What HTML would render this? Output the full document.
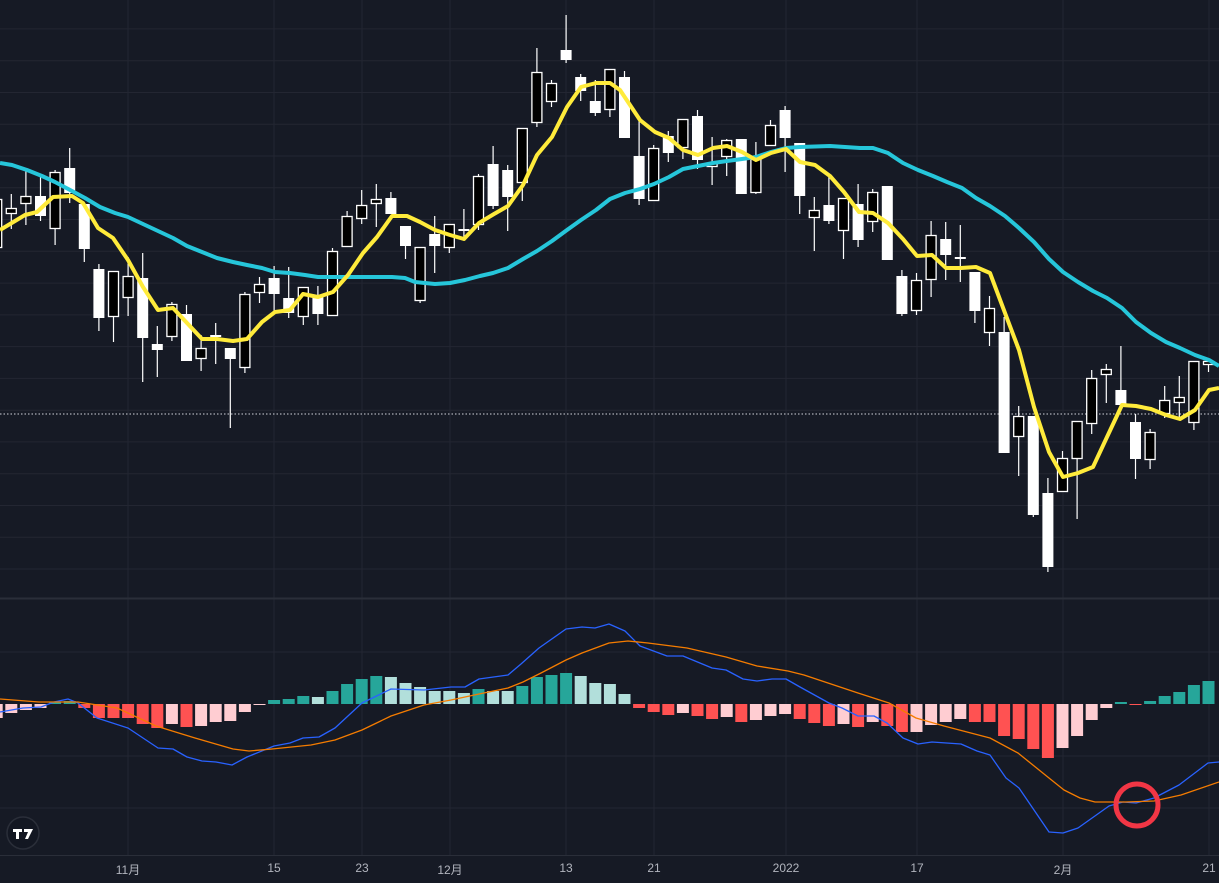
<!DOCTYPE html>
<html><head><meta charset="utf-8"><style>
html,body{margin:0;padding:0;background:#161a25;}
#c{position:relative;width:1219px;height:883px;overflow:hidden;background:#161a25;font-family:"Liberation Sans","Noto Sans CJK SC",sans-serif;}
svg{position:absolute;left:0;top:0;}
.lb{position:absolute;top:861px;color:#b2b5be;font-size:12px;transform:translateX(-50%);white-space:nowrap;}
</style></head><body><div id="c">
<svg id="s" width="1219" height="883" xmlns="http://www.w3.org/2000/svg"></svg>
<div class="lb" style="left:128px">11月</div>
<div class="lb" style="left:274px">15</div>
<div class="lb" style="left:362px">23</div>
<div class="lb" style="left:450px">12月</div>
<div class="lb" style="left:566px">13</div>
<div class="lb" style="left:654px">21</div>
<div class="lb" style="left:786px">2022</div>
<div class="lb" style="left:917px">17</div>
<div class="lb" style="left:1063px">2月</div>
<div class="lb" style="left:1209px">21</div>
</div>
<script>
var NS="http://www.w3.org/2000/svg",s=document.getElementById('s'),h='';
// grid
var vx=[128,274,362,450,566,654,786,917,1063,1209];
vx.forEach(function(x){h+='<line x1="'+x+'" y1="0" x2="'+x+'" y2="855" stroke="#232632" stroke-width="1"/>';});
for(var n=-4;n<=13;n++){var y=(156+31.77*n).toFixed(1);h+='<line x1="0" y1="'+y+'" x2="1219" y2="'+y+'" stroke="#232632"/>';}
[652,756,808].forEach(function(y){h+='<line x1="0" y1="'+y+'" x2="1219" y2="'+y+'" stroke="#232632"/>';});
h+='<line x1="0" y1="598.5" x2="1219" y2="598.5" stroke="#2a2e39" stroke-width="2"/>';
h+='<line x1="0" y1="855.5" x2="1219" y2="855.5" stroke="#2a2e39" stroke-width="1"/>';
h+='<line x1="0" y1="414" x2="1219" y2="414" stroke="#d1d4dc" stroke-width="1" stroke-dasharray="1.5,2"/>';
// MACD histogram
var hist=[[0,713,'p'],[1,710,'p'],[2,708,'p'],[3,702,'t'],[4,701,'t'],[5,708,'r'],[6,718,'r'],[7,718,'r'],[8,718,'r'],[9,724,'r'],[10,728,'r'],[11,724,'p'],[12,727,'r'],[13,726,'p'],[14,722,'p'],[15,721,'p'],[16,712,'p'],[17,705,'p'],[18,700,'t'],[19,699,'t'],[20,696,'t'],[21,697,'l'],[22,691,'t'],[23,684,'t'],[24,679,'t'],[25,676,'t'],[26,677,'l'],[27,683,'l'],[28,687,'l'],[29,691,'l'],[30,691,'l'],[31,693,'l'],[32,689,'t'],[33,691,'l'],[34,691,'l'],[35,686,'t'],[36,677,'t'],[37,675,'t'],[38,673,'t'],[39,676,'l'],[40,683,'l'],[41,684,'l'],[42,694,'l'],[43,708,'r'],[44,712,'r'],[45,715,'r'],[46,713,'p'],[47,716,'r'],[48,719,'r'],[49,717,'p'],[50,722,'r'],[51,720,'p'],[52,716,'p'],[53,714,'p'],[54,719,'r'],[55,723,'r'],[56,726,'r'],[57,724,'p'],[58,727,'r'],[59,722,'p'],[60,726,'r'],[61,732,'r'],[62,732,'p'],[63,725,'p'],[64,722,'p'],[65,719,'p'],[66,722,'r'],[67,722,'r'],[68,736,'r'],[69,739,'r'],[70,749,'r'],[71,758,'r'],[72,748,'p'],[73,736,'p'],[74,720,'p'],[75,708,'p'],[76,702,'t'],[77,705,'r'],[78,701,'t'],[79,696,'t'],[80,692,'t'],[81,685,'t'],[82,681,'t'],[-1,718,'p']];
var col={p:'#ffcdd2',r:'#ff5252',t:'#26a69a',l:'#b2dfdb'},z=704;
hist.forEach(function(b){var x=11.3+14.6*b[0]-6,y1=Math.min(b[1],z),y2=Math.max(b[1],z);h+='<rect x="'+x.toFixed(1)+'" y="'+y1+'" width="12" height="'+Math.max(1,y2-y1)+'" fill="'+col[b[2]]+'"/>';});
function pl(p,c,w){return '<polyline fill="none" stroke="'+c+'" stroke-width="'+w+'" stroke-linejoin="round" points="'+p.map(function(q){return q.join(',')}).join(' ')+'"/>';}
var macd=[[0,712],[23,708],[41,707],[54,702],[68,699],[78,703],[97,718],[128,728],[158,748],[173,749],[187,757],[202,761],[216,762],[232,765],[247,757],[274,746],[290,743],[303,738],[319,737],[335,728],[362,703],[391,689],[424,690],[451,687],[465,687],[479,679],[508,675],[521,664],[539,648],[566,629],[582,627],[595,628],[609,624],[625,631],[640,646],[667,656],[683,656],[712,668],[726,670],[743,679],[757,681],[772,679],[786,679],[800,687],[829,703],[842,708],[858,716],[874,716],[887,723],[903,738],[918,744],[932,742],[961,744],[977,751],[990,755],[1006,778],[1019,788],[1049,832],[1063,833],[1078,828],[1109,806],[1123,802],[1136,803],[1154,798],[1179,785],[1208,763],[1219,762]];
var sig=[[0,699],[39,702],[78,702],[117,708],[156,726],[195,738],[233,749],[249,751],[272,749],[311,745],[335,740],[362,730],[391,716],[424,705],[451,700],[479,694],[508,688],[523,682],[541,673],[566,660],[582,653],[609,643],[628,641],[648,643],[687,648],[726,657],[757,666],[788,671],[804,675],[858,693],[889,703],[916,718],[944,726],[990,738],[1018,753],[1049,778],[1064,790],[1080,798],[1095,802],[1126,802],[1154,801],[1181,795],[1219,782]];
h+=pl(macd,'#2962ff',1.3)+pl(sig,'#f57c00',1.3);
h+='<circle cx="1137" cy="805" r="21" fill="none" stroke="#f23645" stroke-width="5"/>';
// candles
var C=[[-1,199,248,195,252,'B'],[0,208,214,194,229,'B'],[1,196,204,170,225,'B'],[2,196,216,176,221,'W'],[3,172,229,170,245,'B'],[4,168,193,148,203,'W'],[5,204,249,204,262,'W'],[6,269,318,264,331,'W'],[7,271,317,271,342,'B'],[8,276,298,257,316,'B'],[9,278,338,253,382,'W'],[10,344,350,326,377,'W'],[11,304,337,302,341,'B'],[12,314,361,305,361,'W'],[13,348,359,335,371,'B'],[14,335,336,323,364,'W'],[15,348,359,348,428,'W'],[16,294,368,292,373,'B'],[17,284,293,277,303,'B'],[18,278,294,266,312,'W'],[19,298,313,267,318,'W'],[20,287,317,287,325,'B'],[21,296,314,286,325,'W'],[22,251,316,248,316,'B'],[23,216,247,211,247,'B'],[24,205,219,190,224,'B'],[25,199,204,184,227,'B'],[26,198,214,192,214,'W'],[27,226,246,226,259,'W'],[28,247,301,247,303,'B'],[29,234,246,216,273,'W'],[30,224,248,224,253,'B'],[31,229,231,209,240,'W'],[32,176,225,174,230,'B'],[33,164,206,146,209,'W'],[34,170,197,165,231,'W'],[35,128,183,128,201,'B'],[36,72,123,48,127,'B'],[37,83,102,80,107,'B'],[38,50,60,15,63,'W'],[39,77,91,74,101,'W'],[40,101,113,80,116,'W'],[41,69,110,69,117,'B'],[42,77,138,71,138,'W'],[43,156,199,118,205,'W'],[44,148,201,145,201,'B'],[45,136,153,131,162,'W'],[46,119,148,119,159,'B'],[47,116,160,110,169,'W'],[48,163,167,137,185,'B'],[49,140,157,139,176,'B'],[50,139,194,139,194,'W'],[51,157,193,142,194,'B'],[52,125,146,120,146,'B'],[53,110,138,106,172,'W'],[54,143,196,143,214,'W'],[55,210,218,197,251,'B'],[56,205,221,176,224,'W'],[57,198,231,198,259,'B'],[58,204,240,184,247,'W'],[59,192,222,189,232,'B'],[60,186,260,186,260,'W'],[61,276,314,270,316,'W'],[62,280,311,273,315,'B'],[63,235,280,221,297,'B'],[64,239,255,222,280,'W'],[65,257,259,225,282,'W'],[66,272,311,272,323,'W'],[67,308,333,296,346,'B'],[68,332,453,317,453,'W'],[69,416,437,406,476,'B'],[70,416,515,416,517,'W'],[71,493,567,478,572,'W'],[72,458,492,451,492,'B'],[73,421,459,421,519,'B'],[74,378,424,370,434,'B'],[75,369,375,364,403,'B'],[76,390,405,346,411,'W'],[77,422,459,414,479,'W'],[78,432,460,429,469,'B'],[79,400,414,386,418,'B'],[80,397,403,376,419,'B'],[81,361,423,361,430,'B'],[82,361,365,359,372,'B']];
C.forEach(function(c){var x=11.3+14.6*c[0];h+='<line x1="'+x.toFixed(1)+'" y1="'+c[3]+'" x2="'+x.toFixed(1)+'" y2="'+c[4]+'" stroke="#fff" stroke-width="1.2"/>';
var hh=Math.max(2,c[2]-c[1]);
if(c[5]=='W')h+='<rect x="'+(x-5.5).toFixed(1)+'" y="'+c[1]+'" width="11" height="'+hh+'" fill="#fff"/>';
else h+='<rect x="'+(x-5).toFixed(1)+'" y="'+(c[1]+0.5)+'" width="10" height="'+(hh-1)+'" fill="#000" stroke="#fff" stroke-width="1.3"/>';});
var yel=[[0,230],[25,215],[37,212],[53,197],[72,196],[83,203],[98,228],[113,238],[128,260],[143,287],[158,310],[173,308],[187,323],[202,339],[217,339],[233,341],[247,339],[262,322],[275,312],[290,310],[303,294],[318,297],[333,292],[348,275],[363,253],[377,237],[392,216],[407,216],[420,222],[435,230],[450,235],[464,239],[479,223],[494,214],[508,206],[523,185],[537,155],[552,137],[567,107],[581,87],[596,83],[610,83],[620,90],[640,120],[655,132],[669,138],[683,150],[698,155],[713,148],[727,146],[742,152],[756,160],[771,153],[786,149],[800,162],[815,165],[830,176],[844,192],[859,212],[873,213],[888,223],[903,239],[917,256],[932,255],[946,268],[961,268],[976,267],[990,273],[1005,313],[1019,350],[1034,407],[1049,452],[1063,477],[1078,473],[1093,467],[1107,437],[1122,405],[1136,406],[1151,409],[1166,415],[1180,419],[1195,410],[1209,390],[1219,388]];
var cy=[[0,163],[12,165],[27,170],[42,176],[55,182],[72,191],[85,198],[100,207],[115,213],[128,217],[143,224],[158,231],[173,238],[187,246],[202,252],[217,258],[233,262],[247,265],[262,268],[275,272],[290,273],[305,275],[318,277],[333,277],[348,277],[363,277],[377,277],[392,277],[405,278],[415,282],[435,284],[450,283],[465,280],[480,276],[493,273],[508,268],[523,259],[537,251],[552,241],[567,230],[581,220],[596,210],[610,199],[625,193],[640,189],[654,184],[669,177],[683,169],[698,166],[713,163],[727,161],[742,159],[756,157],[771,152],[786,148],[800,147],[830,146],[860,148],[873,148],[888,153],[903,163],[918,170],[933,176],[947,182],[962,188],[976,198],[990,206],[1005,216],[1019,228],[1034,242],[1049,259],[1063,272],[1078,282],[1093,291],[1107,298],[1122,308],[1136,322],[1151,333],[1166,342],[1180,348],[1195,355],[1209,360],[1219,366]];
h+=pl(cy,'#26c6da',4)+pl(yel,'#ffeb3b',4);
// logo
h+='<circle cx="23" cy="833" r="16" fill="#131722" stroke="#2a2e39" stroke-width="1.5"/>';
h+='<path d="M13 829h9v3h-3v7h-3v-7h-3z M24 829h9l-5 10h-3l3-7h-4z" fill="#fff"/>';
s.innerHTML=h;
</script>
</body></html>
